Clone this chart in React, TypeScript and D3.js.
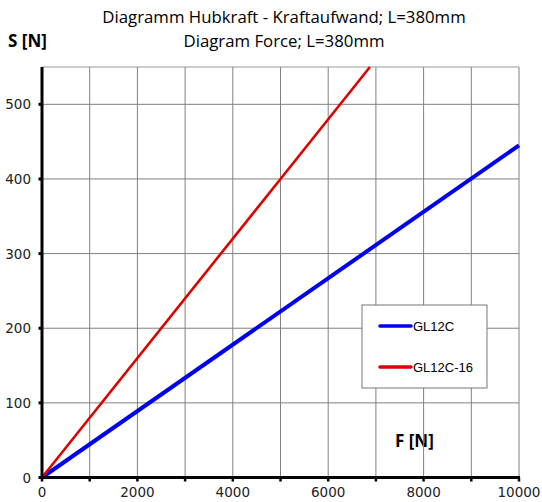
import React from "react";
import * as d3 from "d3";

const xTicks = [0, 2000, 4000, 6000, 8000, 10000];
const xGrid = [1000, 2000, 3000, 4000, 5000, 6000, 7000, 8000, 9000, 10000];
const yTicks = [0, 100, 200, 300, 400, 500];
const seriesNames = ["GL12C", "GL12C-16"];
const seriesColors = ["#0000ee", "#e00000"];
const blueF = [0, 10000];
const blueS = [0, 445];
const redF = [0, 5000, 6875];
const redS = [0, 400, 550];
const titleLines = ["Diagramm Hubkraft - Kraftaufwand; L=380mm", "Diagram Force; L=380mm"];

export default function App() {
  const W = 542, H = 502;
  const left = 42, right = 519, top = 67, bottom = 477.5;
  const x = d3.scaleLinear().domain([0, 10000]).range([left, right]);
  const y = d3.scaleLinear().domain([0, 550]).range([bottom, top]);
  const line = d3.line<[number, number]>().x(d => x(d[0])).y(d => y(d[1]));
  const blue = blueF.map((f, i) => [f, blueS[i]] as [number, number]);
  const red = redF.map((f, i) => [f, redS[i]] as [number, number]);
  const font = "'Open Sans', sans-serif";
  const tickFont = "'DejaVu Sans', sans-serif";
  return (
    <svg width={W} height={H} style={{ position: "absolute", left: 0, top: 0, background: "#fff" }}>
      <rect x={0} y={0} width={W} height={H} fill="#fff" />
      {titleLines.map((t, i) => (
        <text key={i} x={284} y={23 + i * 24} textAnchor="middle" fontFamily={font} fontSize={16.8} fill="#000">{t}</text>
      ))}
      <text x={8} y={47} fontFamily={font} fontSize={17} fontWeight="bold">S [N]</text>
      <text x={395} y={447} fontFamily={font} fontSize={17} fontWeight="bold">F [N]</text>
      {xGrid.map(v => (
        <line key={"gx" + v} x1={x(v)} x2={x(v)} y1={top} y2={bottom} stroke="#808080" strokeWidth={1} />
      ))}
      {yTicks.filter(v => v > 0).map(v => (
        <line key={"gy" + v} x1={left} x2={right} y1={y(v)} y2={y(v)} stroke="#808080" strokeWidth={1} />
      ))}
      <line x1={left} x2={right} y1={top} y2={top} stroke="#999" strokeWidth={1} />
      <path d={line(blue) || ""} fill="none" stroke={seriesColors[0]} strokeWidth={4} />
      <path d={line(red) || ""} fill="none" stroke={seriesColors[1]} strokeWidth={2.6} />
      <line x1={left} x2={left} y1={top} y2={bottom + 1.5} stroke="#000" strokeWidth={3} />
      <line x1={left} x2={right + 1} y1={bottom} y2={bottom} stroke="#000" strokeWidth={3} />
      {yTicks.map(v => (
        <g key={"yt" + v}>
          <line x1={left - 3.5} x2={left} y1={y(v)} y2={y(v)} stroke="#000" strokeWidth={3} />
          <text x={31} y={y(v) + 5} textAnchor="end" fontFamily={tickFont} fontSize={13.5} fill="#222">{v}</text>
        </g>
      ))}
      {xGrid.concat([0]).map(v => (
        <line key={"xt" + v} x1={x(v)} x2={x(v)} y1={bottom} y2={bottom + 4} stroke="#000" strokeWidth={2.5} />
      ))}
      {xTicks.map(v => (
        <text key={"xl" + v} x={x(v)} y={497} textAnchor="middle" fontFamily={tickFont} fontSize={13.5} fill="#222">{v}</text>
      ))}
      <rect x={362} y={305} width={125} height={83} fill="#fff" stroke="#777" strokeWidth={1} />
      {seriesNames.map((n, i) => (
        <g key={n}>
          <line x1={380} x2={411} y1={326 + i * 41} y2={326 + i * 41} stroke={seriesColors[i]} strokeWidth={3.5} strokeLinecap="round" />
          <text x={413} y={331 + i * 41} fontFamily="'Liberation Sans', Arial, sans-serif" fontSize={13} fill="#000">{n}</text>
        </g>
      ))}
    </svg>
  );
}
